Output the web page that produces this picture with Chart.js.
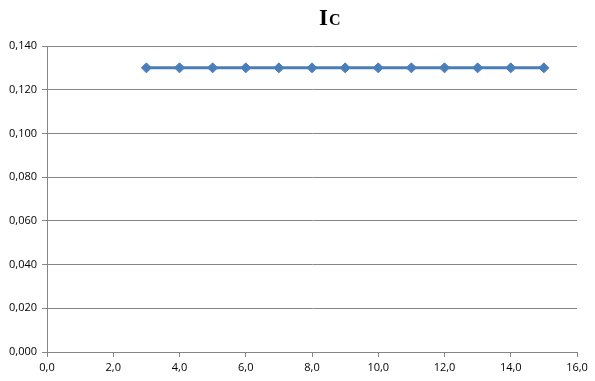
<!DOCTYPE html>
<html>
<head>
<meta charset="utf-8">
<script src="https://cdn.jsdelivr.net/npm/chart.js@4/dist/chart.umd.min.js"></script>
<style>
  html, body { margin: 0; padding: 0; background: #fff; }
  #wrap { width: 595px; height: 381px; position: relative; }
</style>
</head>
<body>
<div id="wrap"><canvas id="icChart"></canvas></div>
<script>
let xVals = [3, 4, 5, 6, 7, 8, 9, 10, 11, 12, 13, 14, 15]
let icVals = [0.13, 0.13, 0.13, 0.13, 0.13, 0.13, 0.13, 0.13, 0.13, 0.13, 0.13, 0.13, 0.13]
let titleMain = 'I'
let titleSub = 'C'

let axisGray = '#868686'
let lineBlue = '#4a7ebb'

// title drawn as I with a smaller C, like the Excel chart
let titlePlugin = {
    id: 'icTitle',
    afterDraw(chart) {
        let c = chart.ctx
        c.save()
        c.fillStyle = '#000'
        c.textBaseline = 'alphabetic'
        c.font = 'bold 23px "Liberation Serif"'
        c.fillText(titleMain, 319, 25)
        let w = c.measureText(titleMain).width
        c.font = 'bold 16px "Liberation Serif"'
        c.fillText(titleSub, 319 + w + 1, 25)
        c.restore()
    }
}

let tickFont = { family: 'Open Sans', size: 11 }

let ctx = document.getElementById('icChart').getContext('2d')
let icChart = new Chart(ctx, {
    type: 'line',
    data: {
        datasets: [{
            data: xVals.map((x, i) => ({ x: x, y: icVals[i] })),
            borderColor: lineBlue,
            backgroundColor: lineBlue,
            borderWidth: 3,
            pointStyle: 'rectRot',
            pointRadius: 5,
            pointBorderWidth: 1,
            tension: 0
        }]
    },
    options: {
        responsive: true,
        maintainAspectRatio: false,
        animation: false,
        layout: { padding: { top: 46, right: 18, left: 0, bottom: 0 } },
        plugins: {
            legend: { display: false },
            title: { display: false },
            tooltip: { enabled: false }
        },
        scales: {
            x: {
                type: 'linear',
                min: 0,
                max: 16,
                ticks: {
                    stepSize: 2,
                    color: '#000',
                    padding: 4,
                    maxRotation: 0,
                    font: tickFont,
                    callback: v => v.toFixed(1).replace('.', ',')
                },
                grid: { drawOnChartArea: false, color: axisGray, tickLength: 5 },
                border: { display: true, color: axisGray, width: 1 },
                afterFit(scale) { scale.height = 29 }
            },
            y: {
                min: 0,
                max: 0.14,
                ticks: {
                    stepSize: 0.02,
                    color: '#000',
                    padding: 5,
                    font: tickFont,
                    callback: v => v.toFixed(3).replace('.', ',')
                },
                grid: { color: axisGray, tickLength: 5 },
                border: { display: true, color: axisGray, width: 1 },
                afterFit(scale) { scale.width = 47 }
            }
        }
    },
    plugins: [titlePlugin]
})
</script>
</body>
</html>
